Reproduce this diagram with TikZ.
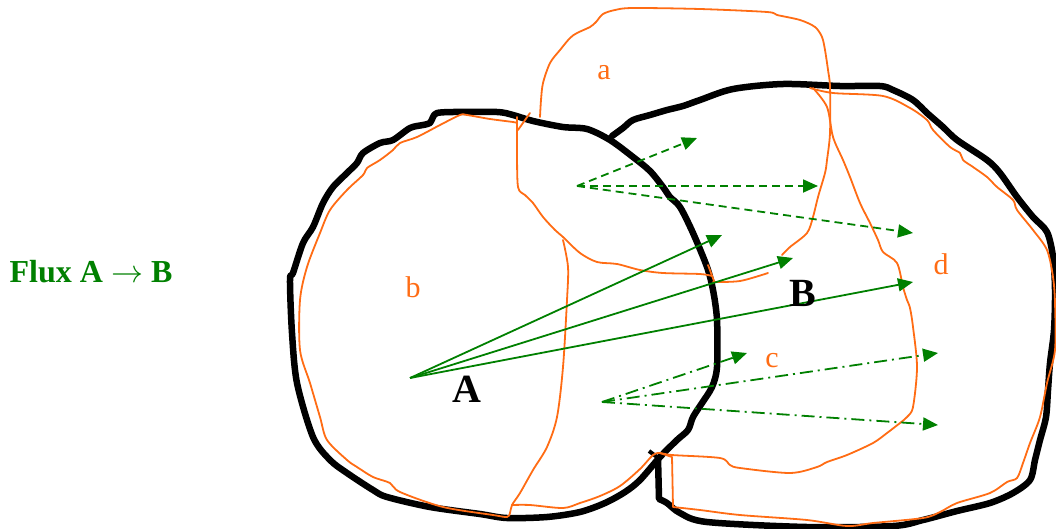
\RequirePackage{fix-cm}
\documentclass[tikz,border=0pt]{standalone}
\usepackage{fontspec}
\setmainfont{Liberation Serif}
\usetikzlibrary{arrows.meta}
\definecolor{orng}{RGB}{255,108,20}
\definecolor{grn}{RGB}{0,128,0}
\begin{document}
\begin{tikzpicture}[x=1pt,y=-1pt,
  blackline/.style={black,line width=6.5pt,line join=round,line cap=round},
  orangeline/.style={orng,line width=1.8pt,line join=round,line cap=round},
  flow/.style={grn,line width=1.8pt,-{Triangle[length=15pt,width=13pt]}},
  flowdashed/.style={flow,dash pattern=on 8pt off 5pt},
  flowdashdot/.style={flow,dash pattern=on 13pt off 5pt on 2pt off 5pt},
  region/.style={orng,font=\fontsize{30}{36}\selectfont,inner sep=0pt},
  setlabel/.style={black,font=\fontsize{40}{48}\selectfont\bfseries,inner sep=0pt},
  title/.style={grn,font=\fontsize{32}{38}\selectfont\bfseries,inner sep=0pt}]
\useasboundingbox (0,0) rectangle (1056,528);

% ---------- black set A (closed) ----------
\draw[blackline] plot[smooth cycle,tension=0.5] coordinates {
 (430,123) (433,117) (437,113) (453,112) (497,112) (513,115) (533,121) (563,127)
 (587,129) (610,140) (633,157) (650,171) (663,187) (670,197) (680,207) (693,233)
 (707,267) (713,290) (717,320) (717,367) (712,387) (702,403) (693,417) (688,430)
 (677,440) (660,457) (640,480) (625,492) (605,503) (580,512) (547,517) (507,518)
 (480,514) (430,507) (387,497) (373,490) (347,473) (330,460) (313,437) (297,383)
 (292,333) (290,280) (293,273) (303,243) (313,227) (323,203) (333,187) (347,173)
 (357,163) (363,153) (380,143) (393,140) (410,128) (423,125)};

% ---------- black set B (open) ----------
\draw[blackline] plot[smooth,tension=0.5] coordinates {
 (612,136) (623,128) (633,120) (650,115) (667,110) (683,106) (700,100) (733,89)
 (783,84) (840,86) (880,86) (893,90) (913,100) (927,113) (943,127) (957,140)
 (987,160) (1000,173) (1017,197) (1033,217) (1047,232) (1053,257) (1055,290)
 (1054,330) (1050,363) (1048,390) (1046,417) (1040,440) (1035,460) (1030,480)
 (1013,493) (990,503) (957,511) (923,520) (893,526) (807,527) (707,522) (680,513)
 (667,503) (659,499)} -- (658,458);
\draw[black,line width=4pt] (649,451) -- (657,457);

% ---------- orange region a ----------
\draw[orangeline] plot[smooth,tension=0.5] coordinates {
 (540,117) (541,100) (543,83) (550,63) (560,50) (570,38) (577,33) (590,27) (596,22)
 (603,14) (615,10) (633,8) (700,9) (767,12) (777,15) (800,20) (815,27) (822,37)
 (825,50) (828,70) (830,87) (830,133) (827,160) (825,173) (818,197) (813,217)
 (807,233) (790,247) (782,255)};
\draw[orangeline] plot[smooth,tension=0.5] coordinates {
 (517,123) (517,150) (518,187) (525,195) (533,203) (543,217) (555,230) (563,237)
 (580,253) (597,262) (617,264) (640,270) (663,273) (700,274) (712,276)};
\draw[orangeline] (708,265) -- (714,281);
\draw[orangeline] plot[smooth,tension=0.5] coordinates {(713,282) (740,281) (768,273)};
\draw[orangeline] (530,113) -- (518,130);
\draw[orangeline] (517,117) -- (517,133);

% ---------- orange region b ----------
\draw[orangeline] plot[smooth,tension=0.5] coordinates {
 (517,123) (513,122) (490,119) (467,115) (460,115) (440,125) (417,137) (400,143)
 (393,150) (380,160) (367,168) (363,175) (347,190) (330,210) (320,233) (307,267)
 (300,300) (300,350) (310,383) (320,417) (327,440) (347,460) (357,467) (373,477)
 (390,483) (400,492) (443,507) (493,515) (507,517) (510,513) (512,505) (520,493)
 (533,470) (547,447) (557,417) (563,367) (567,300) (568,267) (563,240)};

% ---------- orange region c (bottom and c/d divider) ----------
\draw[orangeline] plot[smooth,tension=0.5] coordinates {
 (512,505) (530,505) (563,508) (580,503) (600,496) (620,486) (640,469) (653,455)
 (660,453) (672,455) (720,458) (730,465) (740,468) (790,473) (817,467) (827,462)
 (847,455) (873,443) (887,433) (900,423) (907,417) (913,407) (917,367) (913,327)
 (910,308) (907,300) (903,287) (897,263) (883,252) (878,240) (870,223) (860,203)
 (850,177) (843,160) (833,137) (827,107) (813,88)};

% ---------- orange region d ----------
\draw[orangeline] plot[smooth,tension=0.5] coordinates {
 (810,88) (833,93) (883,96) (910,108) (927,120) (933,130) (950,147) (960,153)
 (963,160) (973,167) (987,177) (997,187) (1013,200) (1017,210) (1033,230)
 (1047,250) (1053,277) (1055,303) (1055,350) (1047,383) (1040,417) (1030,443)
 (1023,463) (1017,478) (1007,482) (990,493) (957,503) (940,512) (923,518)
 (873,523) (847,526) (807,520) (740,515) (700,510) (673,507)} -- (672,457) -- (660,453);

% ---------- flux arrows ----------
\coordinate (dO) at (577,186);
\coordinate (d1) at (697,138);
\coordinate (d2) at (818,186);
\coordinate (d3) at (913,233);
\draw[flowdashed] (dO) -- (d1);
\draw[flowdashed] (dO) -- (d2);
\draw[flowdashed] (dO) -- (d3);

\coordinate (sO) at (410,378);
\coordinate (s1) at (722,235);
\coordinate (s2) at (793,258);
\coordinate (s3) at (913,282);
\draw[flow] (sO) -- (s1);
\draw[flow] (sO) -- (s2);
\draw[flow] (sO) -- (s3);

\coordinate (cO) at (602,402);
\coordinate (c1) at (747,353);
\coordinate (c2) at (938,353);
\coordinate (c3) at (938,425);
\draw[flowdashdot] (cO) -- (c1);
\draw[flowdashdot] (cO) -- (c2);
\draw[flowdashdot] (cO) -- (c3);

% ---------- labels ----------
\node[region] (la) at (604,73) {a};
\node[region] (lb) at (413,287) {b};
\node[region] (lc) at (772,361) {c};
\node[region] (ld) at (941,264) {d};
\node[setlabel] (lA) at (467,389) {A};
\node[setlabel] (lB) at (803,293) {B};
\node[title] (flux) at (91,272) {Flux A $\rightarrow$ B};
\end{tikzpicture}
\end{document}
